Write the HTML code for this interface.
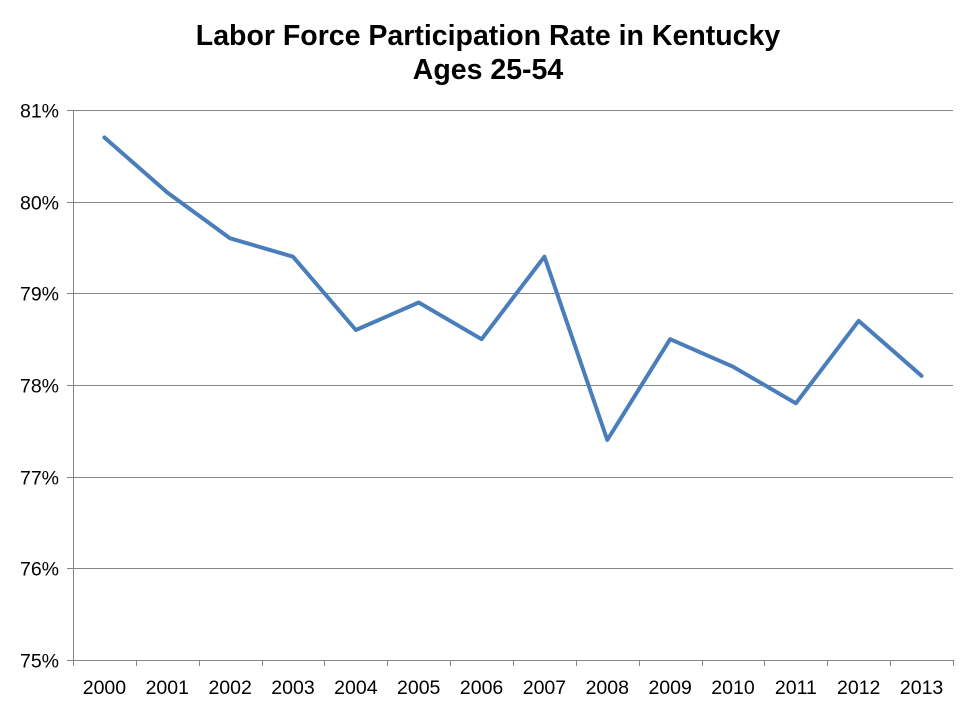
<!DOCTYPE html>
<html><head><meta charset="utf-8"><style>
html,body{margin:0;padding:0;background:#fff;}
svg text{font-family:"Liberation Sans",Arial,sans-serif;}
</style></head><body>
<svg width="976" height="711" xmlns="http://www.w3.org/2000/svg">
<text x="488" y="45" text-anchor="middle" font-size="28.5" font-weight="bold">Labor Force Participation Rate in Kentucky</text>
<text x="488" y="79" text-anchor="middle" font-size="28.5" font-weight="bold">Ages 25-54</text>
<g id="grid"></g>
<g id="axes"></g>
<g id="series"></g>
</svg>
<script>
const categories=["2000","2001","2002","2003","2004","2005","2006","2007","2008","2009","2010","2011","2012","2013"];
const values=[80.7,80.1,79.6,79.4,78.6,78.9,78.5,79.4,77.4,78.5,78.2,77.8,78.7,78.1];
const yTicks=[75,76,77,78,79,80,81];
const yTickLabels=["75%","76%","77%","78%","79%","80%","81%"];
const NS="http://www.w3.org/2000/svg";
const L=73,R=953,T=110,B=660,yMin=75,yMax=81;
const bw=(R-L)/categories.length;
function xs(i){return L+bw*(i+0.5);}
function ys(v){return B-(v-yMin)/(yMax-yMin)*(B-T);}
function mk(tag,attrs,parent){const e=document.createElementNS(NS,tag);for(const k in attrs)e.setAttribute(k,attrs[k]);parent.appendChild(e);return e;}
const grid=document.getElementById('grid'),axes=document.getElementById('axes'),series=document.getElementById('series');
yTicks.forEach((t,i)=>{
  const y=Math.round(ys(t))+0.5;
  if(t!==yMin){const g=mk('line',{x1:L,x2:R,y1:y,y2:y,stroke:'#868686','stroke-width':1},grid);
  
  }
  const tk=mk('line',{x1:L-6,x2:L,y1:y,y2:y,stroke:'#868686'},axes);
  
  
  const tx=mk('text',{x:L-14,y:y+7,'text-anchor':'end','font-size':19.5},axes);
  tx.textContent=yTickLabels[i];
  
  
});
const ya=mk('line',{x1:L+0.5,x2:L+0.5,y1:T,y2:B,stroke:'#868686'},axes);


const xa=mk('line',{x1:L,x2:R,y1:B+0.5,y2:B+0.5,stroke:'#868686'},axes);


for(let i=0;i<=categories.length;i++){
  const x=Math.round(L+bw*i)+0.5;
  const tk=mk('line',{x1:x,x2:x,y1:B,y2:B+6,stroke:'#868686'},axes);
  
  
}
categories.forEach((c,i)=>{
  const tx=mk('text',{x:xs(i),y:B+34,'text-anchor':'middle','font-size':19.5},axes);
  tx.textContent=c;
  
  
});
const pts=values.map((v,i)=>xs(i)+','+ys(v)).join(' ');
const pl=mk('polyline',{points:pts,fill:'none',stroke:'#4a7ebb','stroke-width':4,'stroke-linejoin':'round','stroke-linecap':'round'},series);


</script>
</body></html>
